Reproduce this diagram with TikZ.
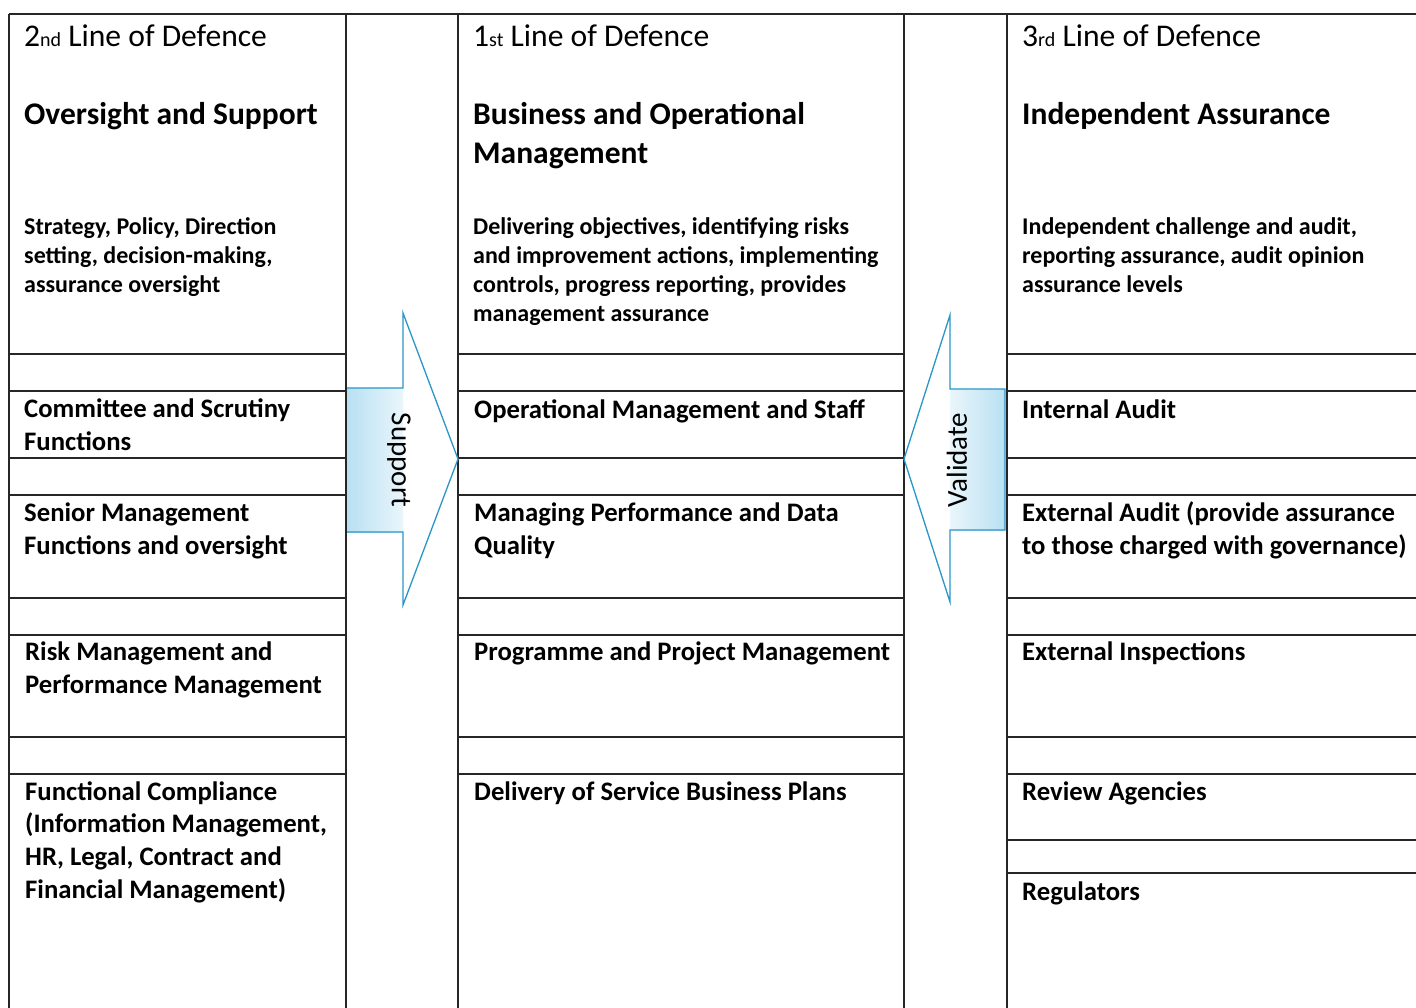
\documentclass[tikz,border=0pt]{standalone}
\usepackage{fontspec}
\setmainfont{Carlito}
\definecolor{arrowline}{HTML}{2A96C8}
\definecolor{arrowfill}{HTML}{B8E0F2}
\begin{document}
\begin{tikzpicture}[x=1pt,y=-1pt,
  grid/.style={line width=1.5pt, draw=black!85},
  ttl/.style={anchor=base west, inner sep=0pt, font=\fontsize{31.6}{39}\selectfont},
  hdg/.style={anchor=base west, inner sep=0pt, align=left, font=\fontsize{31.5}{39}\selectfont\bfseries},
  desc/.style={anchor=base west, inner sep=0pt, align=left, font=\fontsize{24}{29}\selectfont\bfseries},
  item/.style={anchor=base west, inner sep=0pt, align=left, font=\fontsize{26.7}{32.6}\selectfont\bfseries},
  arrowshape/.style={draw=arrowline, line width=1.3pt, line join=miter},
  arrowtext/.style={inner sep=0pt, font=\fontsize{29}{29}\selectfont},
]
\newcommand{\ordsuf}[1]{{\fontsize{20}{20}\selectfont #1}}
\useasboundingbox (0,0) rectangle (1416,1007);
\fill[white] (0,0) rectangle (1416,1007);

% ---- table grid ----
\draw[grid] (9,14) -- (1416,14);
\foreach \x in {9,346,458,904,1007} \draw[grid] (\x,14) -- (\x,1010);
\foreach \y in {354,391,458,495,598,635,737,774} {
  \draw[grid] (9,\y) -- (346,\y);
  \draw[grid] (458,\y) -- (904,\y);
  \draw[grid] (1007,\y) -- (1416,\y);
}
\foreach \y in {840,873} \draw[grid] (1007,\y) -- (1416,\y);

% ---- Support arrow (pointing right) ----
\path[fill=white] (347,388) -- (403,388) -- (403,313) -- (458,459) -- (403,605) -- (403,532) -- (347,532) -- cycle;
\begin{scope}
  \clip (347,388) rectangle (403,532);
  \shade[left color=arrowfill, right color=arrowfill!30] (347,388) rectangle (403,532);
\end{scope}
\draw[arrowshape] (347,388) -- (403,388) -- (403,313) -- (458,459) -- (403,605) -- (403,532) -- (347,532);
\node[arrowtext, rotate=-90] (support) at (399,460) {Support};

% ---- Validate arrow (pointing left) ----
\path[fill=white] (1005,389) -- (950,389) -- (950,315) -- (904,459) -- (950,602) -- (950,530) -- (1005,530) -- cycle;
\begin{scope}
  \clip (950,389) rectangle (1005,530);
  \shade[left color=arrowfill!30, right color=arrowfill] (950,389) rectangle (1005,530);
\end{scope}
\draw[arrowshape] (1005,389) -- (950,389) -- (950,315) -- (904,459) -- (950,602) -- (950,530) -- (1005,530) -- cycle;
\node[arrowtext, rotate=90] (validate) at (957,460) {Validate};

% ---- 2nd line of defence (multi-line nodes are placed by their last baseline) ----
\node[ttl] (t2) at (24,46) {2\ordsuf{nd} Line of Defence};
\node[hdg] (h2) at (24,124) {Oversight and Support};
\node[desc] (d2) at (24,292) {Strategy, Policy, Direction\\setting, decision-making,\\assurance oversight};
\node[item] (c2a) at (24,450) {Committee and Scrutiny\\Functions};
\node[item] (c2b) at (24,554) {Senior Management\\Functions and oversight};
\node[item] (c2c) at (25,693) {Risk Management and\\Performance Management};
\node[item] (c2d) at (25,898) {Functional Compliance\\(Information Management,\\HR, Legal, Contract and\\Financial Management)};

% ---- 1st line of defence ----
\node[ttl] (t1) at (473,46) {1\ordsuf{st} Line of Defence};
\node[hdg] (h1) at (473,163) {Business and Operational\\Management};
\node[desc] (d1) at (473,321) {Delivering objectives, identifying risks\\and improvement actions, implementing\\controls, progress reporting, provides\\management assurance};
\node[item] (c1a) at (474,418) {Operational Management and Staff};
\node[item] (c1b) at (474,554) {Managing Performance and Data\\Quality};
\node[item] (c1c) at (474,660) {Programme and Project Management};
\node[item] (c1d) at (474,800) {Delivery of Service Business Plans};

% ---- 3rd line of defence ----
\node[ttl] (t3) at (1022,46) {3\ordsuf{rd} Line of Defence};
\node[hdg] (h3) at (1022,124) {Independent Assurance};
\node[desc] (d3) at (1022,292) {Independent challenge and audit,\\reporting assurance, audit opinion\\assurance levels};
\node[item] (c3a) at (1022,418) {Internal Audit};
\node[item] (c3b) at (1022,554) {External Audit (provide assurance\\to those charged with governance)};
\node[item] (c3c) at (1022,660) {External Inspections};
\node[item] (c3d) at (1022,800) {Review Agencies};
\node[item] (c3e) at (1022,900) {Regulators};
\end{tikzpicture}
\end{document}
